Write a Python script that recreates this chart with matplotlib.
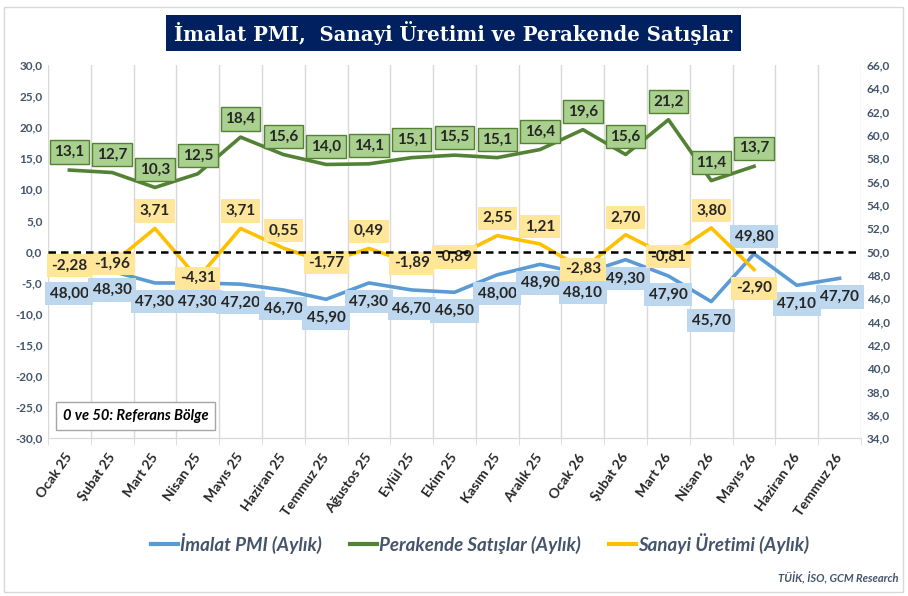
import numpy as np
import matplotlib
matplotlib.use("Agg")
import matplotlib.pyplot as plt
from matplotlib.patches import Rectangle

plt.rcParams['font.family'] = ['Lato', 'DejaVu Sans']

# data
months = ["Ocak 25", "Şubat 25", "Mart 25", "Nisan 25", "Mayıs 25", "Haziran 25",
          "Temmuz 25", "Ağustos 25", "Eylül 25", "Ekim 25", "Kasım 25", "Aralık 25",
          "Ocak 26", "Şubat 26", "Mart 26", "Nisan 26", "Mayıs 26", "Haziran 26",
          "Temmuz 26"]
pmi = [48.00, 48.30, 47.30, 47.30, 47.20, 46.70, 45.90, 47.30, 46.70, 46.50,
       48.00, 48.90, 48.10, 49.30, 47.90, 45.70, 49.80, 47.10, 47.70]
perakende = [13.1, 12.7, 10.3, 12.5, 18.4, 15.6, 14.0, 14.1, 15.1, 15.5, 15.1,
             16.4, 19.6, 15.6, 21.2, 11.4, 13.7]
sanayi = [-2.28, -1.96, 3.71, -4.31, 3.71, 0.55, -1.77, 0.49, -1.89, -0.89, 2.55,
          1.21, -2.83, 2.70, -0.81, 3.80, -2.90]

# label placement: a=above, b=below, c=centre
pmi_pos = ['b'] * 16 + ['a', 'b', 'b']
san_pos = ['a' if v > 0 else 'c' for v in sanayi[:-1]] + ['b']

BLUE = '#5B9BD5'
GREEN = '#548235'
YELLOW = '#FFC000'
AXC = '#44546A'
GRID = '#D9D9D9'

fig = plt.figure(figsize=(9.08, 5.96), dpi=100)
ax = fig.add_axes([48/908, 1-438/596, (861-48)/908, (438-65)/596])
ax2 = ax.twinx()
ax.set_zorder(ax2.get_zorder() + 1)
ax.patch.set_visible(False)

x = np.arange(len(months))
ax.set_xlim(-0.5, len(months) - 0.5)
ax.set_ylim(-30, 30)
ax2.set_ylim(34, 66)

for b in np.arange(-0.5, len(months) + 0.5, 1):
    ax2.axvline(b, color=GRID, lw=1, zorder=0)

ax2.plot(x[:len(pmi)], pmi, color=BLUE, lw=2.6, zorder=2)
ax.plot(x[:len(perakende)], perakende, color=GREEN, lw=2.6, zorder=2)
ax.plot(x[:len(sanayi)], sanayi, color=YELLOW, lw=2.6, zorder=3)
ax.axhline(0, color='black', lw=1.8, ls=(0, (3, 2)), zorder=10)

offs = {'a': 12.5, 'b': -13.5, 'c': 0}
lab_kw = dict(textcoords='offset points', ha='center', va='center',
              fontsize=11, fontweight='bold', color='#262626')
for i, v in enumerate(pmi):
    ax2.annotate(f"{v:.2f}".replace('.', ','), (x[i], v), xytext=(0, offs[pmi_pos[i]]),
                 zorder=5, bbox=dict(boxstyle='square,pad=0.3', fc='#BDD7EE', ec='none'),
                 **lab_kw)
for i, v in enumerate(perakende):
    ax.annotate(f"{v:.1f}".replace('.', ','), (x[i], v), xytext=(0, 13), zorder=6,
                bbox=dict(boxstyle='square,pad=0.3', fc='#A9D08E', ec=GREEN, lw=1),
                **lab_kw)
for i, v in enumerate(sanayi):
    ax.annotate(f"{v:.2f}".replace('.', ','), (x[i], v), xytext=(0, offs[san_pos[i]]),
                zorder=7, bbox=dict(boxstyle='square,pad=0.3', fc='#FFE699', ec='none'),
                **lab_kw)

# axes styling
ax.set_yticks(np.arange(-30, 31, 5))
ax.set_yticklabels([f"{t:.1f}".replace('.', ',') for t in np.arange(-30, 31, 5)])
ax2.set_yticks(np.arange(34, 67, 2))
ax2.set_yticklabels([f"{t:.1f}".replace('.', ',') for t in np.arange(34, 67, 2)])
for a in (ax, ax2):
    for s in ('left', 'right', 'top'):
        a.spines[s].set_visible(False)
    a.spines['bottom'].set_color(GRID)
    a.tick_params(axis='y', length=0, labelsize=8.5, labelcolor=AXC, pad=4)
    for lab in a.get_yticklabels():
        lab.set_fontweight('bold')

ax.set_xticks(x)
ax.set_xticklabels(months, rotation=55, ha='right', va='center', rotation_mode='anchor',
                   fontsize=10, fontweight='bold', color='#262626')
ax.set_xticks(np.arange(-0.5, len(months) + 0.5, 1), minor=True)
ax.tick_params(axis='x', which='major', length=0, pad=12)
ax.tick_params(axis='x', which='minor', length=5, color=GRID)

# legend
h1, = ax.plot([], [], color=BLUE, lw=3)
h2, = ax.plot([], [], color=GREEN, lw=3)
h3, = ax.plot([], [], color=YELLOW, lw=3)
leg = fig.legend([h1, h2, h3], ["İmalat PMI (Aylık)", "Perakende Satışlar (Aylık)",
                                "Sanayi Üretimi (Aylık)"],
                 loc='center', bbox_to_anchor=(480.5/908, 1-543/596), ncol=3, frameon=False,
                 handlelength=1.4, handletextpad=0.15, columnspacing=1.5,
                 borderpad=0, prop=dict(size=13.5, weight='bold', style='italic'))
for t in leg.get_texts():
    t.set_color(AXC)

# title box
fig.patches.append(Rectangle((166/908, 1-51/596), (741-166)/908, 36/596,
                             transform=fig.transFigure, fc='#002060', ec='none'))
fig.text(453.5/908, 1-33/596, "İmalat PMI,  Sanayi Üretimi ve Perakende Satışlar",
         ha='center', va='center', color='white', fontsize=14.2, fontweight='bold',
         family=['DejaVu Serif'])

# outer frame
fig.patches.append(Rectangle((4/908, 1-592/596), 899/908, 585/596,
                             transform=fig.transFigure, fc='none', ec=GRID, lw=1))

fig.text(135.5/908, 1-416/596, "0 ve 50: Referans Bölge", ha='center', va='center',
         fontsize=10.5, fontweight='bold', style='italic', color='black',
         bbox=dict(boxstyle='square,pad=0.45', fc='white', ec='#A6A6A6', lw=1))

fig.text(898/908, 1-578/596, "TÜİK, İSO, GCM Research", ha='right', va='center',
         fontsize=8, fontweight='bold', style='italic', color=AXC)

fig.savefig('out.png', dpi=100)
